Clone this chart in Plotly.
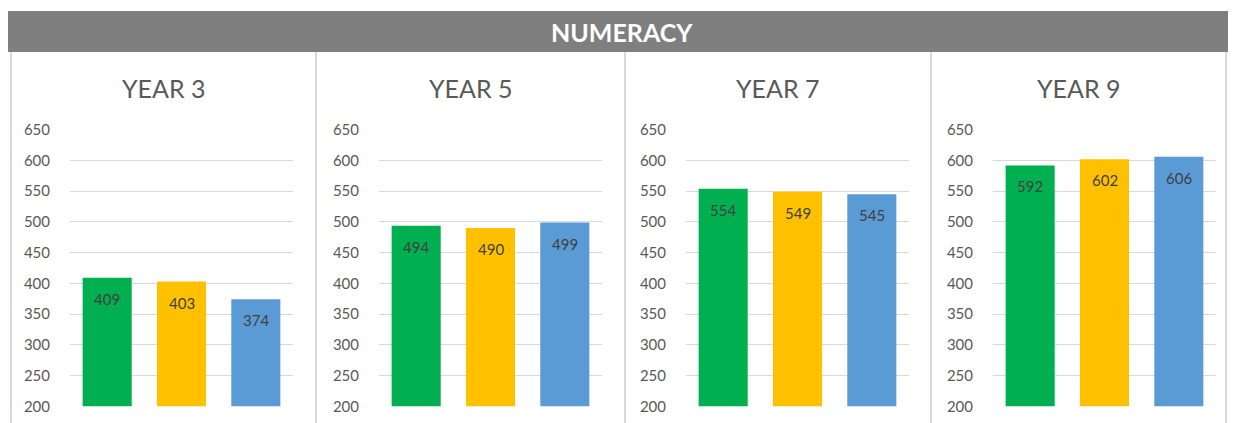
import plotly.graph_objects as go

# ---- data ----
panels = ["YEAR 3", "YEAR 5", "YEAR 7", "YEAR 9"]
series_colors = ["#00B050", "#FFC000", "#5B9BD5"]
year3 = [409, 403, 374]
year5 = [494, 490, 499]
year7 = [554, 549, 545]
year9 = [592, 602, 606]
panel_values = [year3, year5, year7, year9]
y_ticks = [200, 250, 300, 350, 400, 450, 500, 550, 600, 650]
header_title = "NUMERACY"

W = 1234
HF = 431      # figure height
OFF = 9.0     # observed page offset (image px)
SC = 0.96     # observed vertical scale of the photograph
FONT = "Lato, 'Open Sans', sans-serif"

def px(x):
    return x / W

def py(y):
    return 1 - ((y - OFF) / SC) / HF

fig = go.Figure()

plot_left = [70, 379, 686, 993]
plot_w = 223
panel_edges = [11, 316, 625, 931, 1226]
y_top, y_bot = 129, 406

shapes = []
annotations = []

# header bar
shapes.append(dict(type="rect", xref="paper", yref="paper",
                   x0=px(8), x1=px(1228), y0=py(51), y1=py(10),
                   fillcolor="#7F7F7F", line=dict(width=0), layer="below"))
annotations.append(dict(xref="paper", yref="paper", x=px(622), y=py(31),
                        text="<b>" + header_title + "</b>", showarrow=False,
                        font=dict(family=FONT, size=25, color="white"),
                        xanchor="center", yanchor="middle"))

# panel separators
for xe in panel_edges:
    shapes.append(dict(type="line", xref="paper", yref="paper",
                       x0=px(xe), x1=px(xe), y0=0, y1=py(51),
                       line=dict(color="#D9D9D9", width=2), layer="below"))

for i, (name, vals) in enumerate(zip(panels, panel_values)):
    n = i + 1
    xa = "x" if n == 1 else f"x{n}"
    ya = "y" if n == 1 else f"y{n}"
    fig.add_trace(go.Bar(
        x=[0, 1, 2], y=vals, marker=dict(color=series_colors, line=dict(width=0)),
        width=0.66, xaxis=xa, yaxis=ya, showlegend=False, hoverinfo="skip",
    ))
    for j, v in enumerate(vals):
        annotations.append(dict(xref=xa, yref=ya, x=j, y=v, yshift=-21,
                                text=str(v), showarrow=False,
                                font=dict(family=FONT, size=15, color="#404040"),
                                xanchor="center", yanchor="middle"))
    # panel title
    cx = (panel_edges[i] + panel_edges[i + 1]) / 2
    annotations.append(dict(xref="paper", yref="paper", x=px(cx), y=py(87),
                            text=name, showarrow=False,
                            font=dict(family=FONT, size=25, color="#595959"),
                            xanchor="center", yanchor="middle"))
    xl = plot_left[i]
    fig.update_layout(**{
        ("xaxis" if n == 1 else f"xaxis{n}"): dict(
            domain=[px(xl), px(xl + plot_w)], range=[-0.5, 2.5],
            showticklabels=False, showgrid=False, zeroline=False,
            anchor=ya, fixedrange=True),
        ("yaxis" if n == 1 else f"yaxis{n}"): dict(
            domain=[py(y_bot), py(y_top)], range=[200, 650],
            tickvals=y_ticks, ticktext=[str(t) for t in y_ticks],
            showgrid=True, gridcolor="#D9D9D9", gridwidth=1,
            zeroline=False, showline=False,
            ticks="outside", ticklen=16, tickcolor="rgba(0,0,0,0)",
            tickfont=dict(family=FONT, size=15, color="#595959"),
            anchor=xa, fixedrange=True),
    })

fig.update_layout(
    width=W, height=HF,
    margin=dict(l=0, r=0, t=0, b=0),
    paper_bgcolor="white", plot_bgcolor="white",
    shapes=shapes, annotations=annotations,
    bargap=0.34,
)

fig.write_html(
    "out.html",
    config={"displayModeBar": False},
    post_script="document.body.style.margin='0';document.body.style.padding='0';document.body.style.overflow='hidden';",
)
